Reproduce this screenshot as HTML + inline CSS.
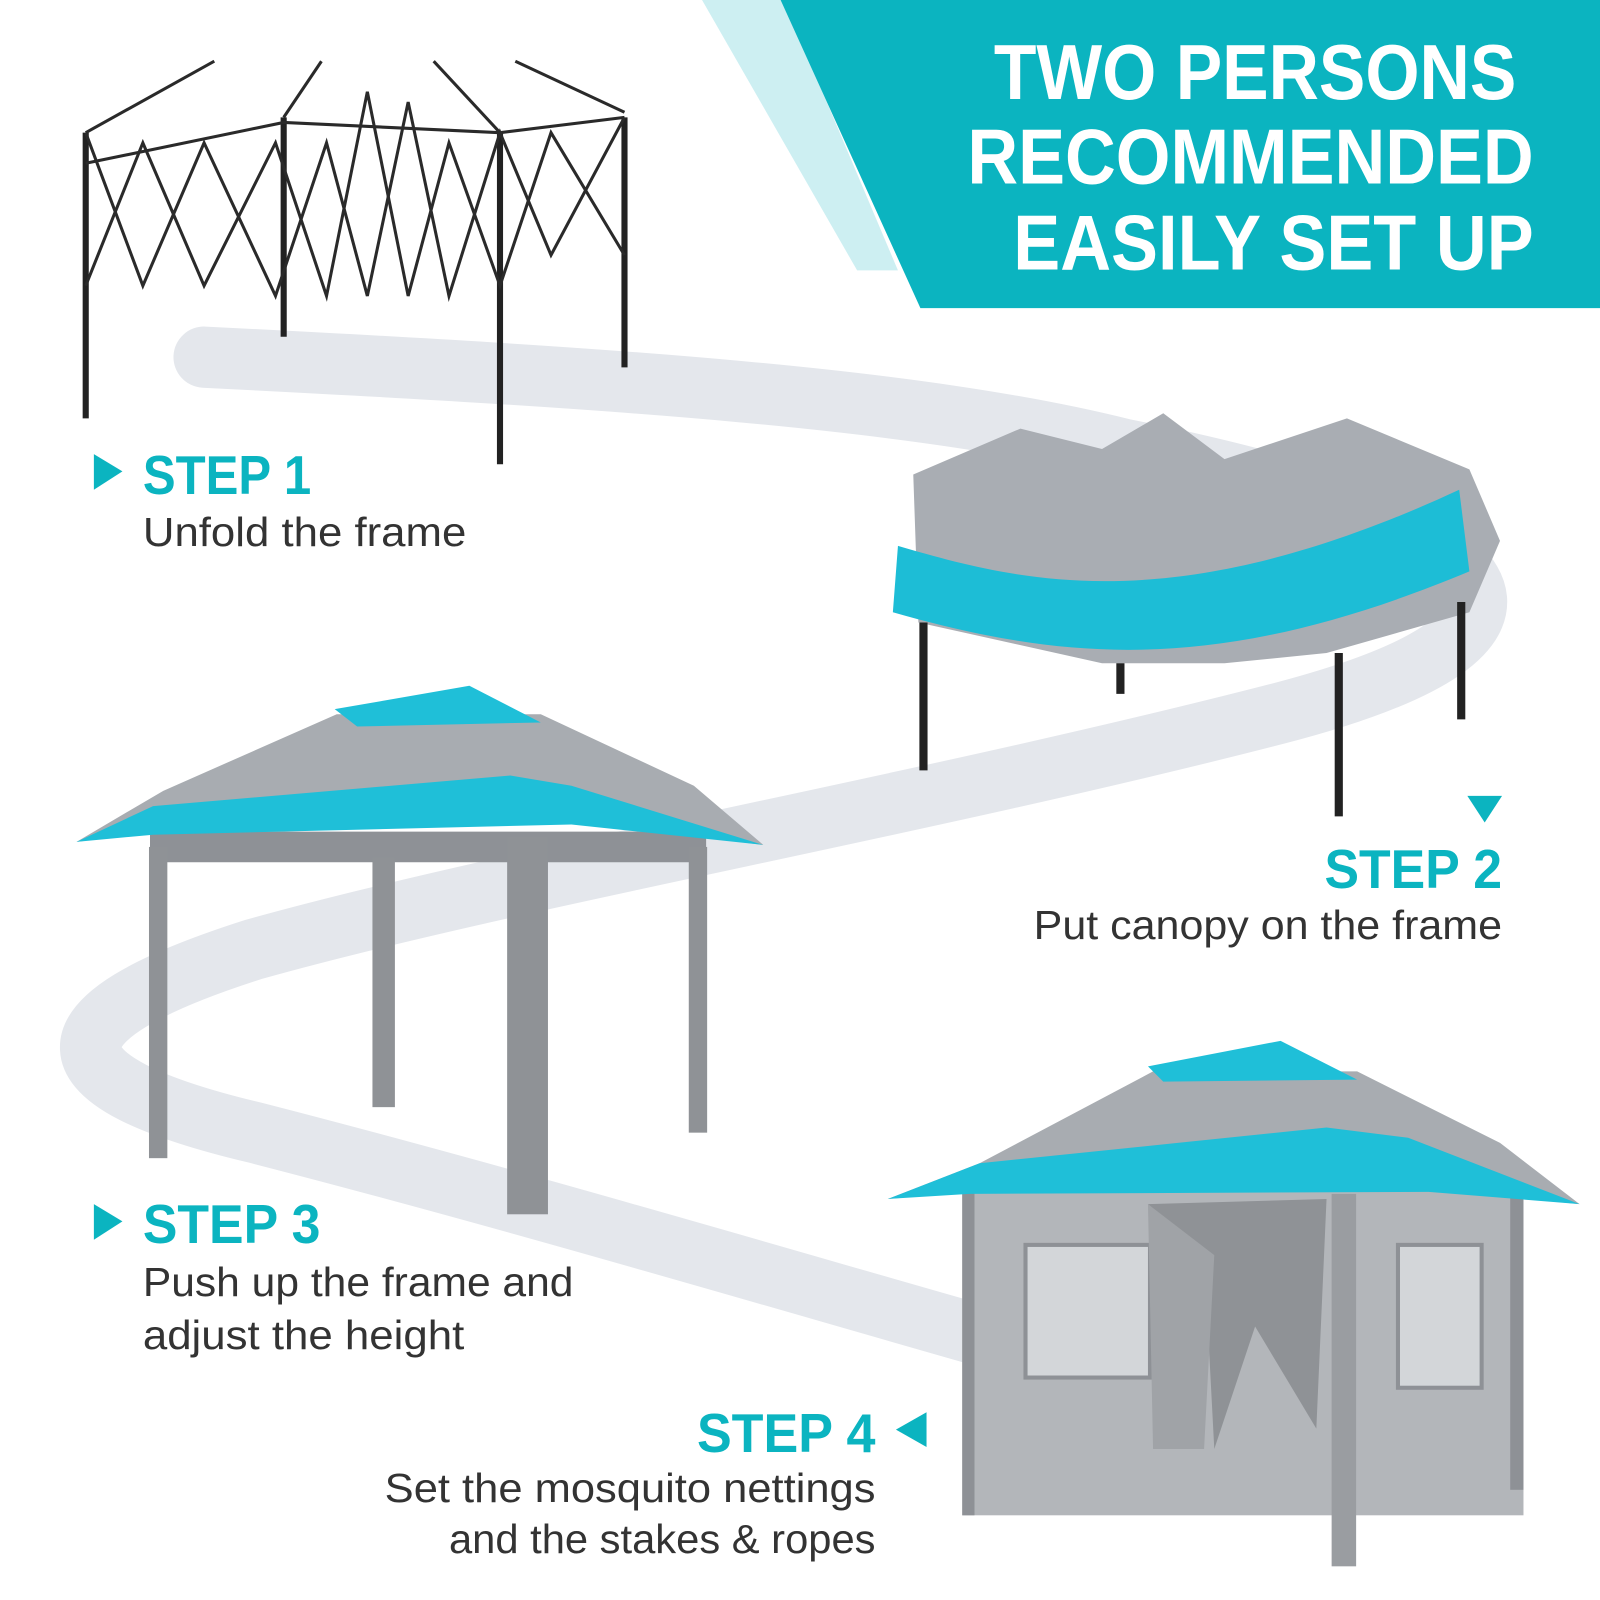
<!DOCTYPE html>
<html><head><style>
html,body{margin:0;padding:0;background:#fff;}
svg{display:block;}
text{font-family:"Liberation Sans",sans-serif;}
</style></head><body>
<svg width="1600" height="1600" viewBox="0 0 1568 1568" xmlns="http://www.w3.org/2000/svg">
<rect width="1568" height="1568" fill="#fff"/>
<polygon points="688,0 768,0 880,265 840,265" fill="#cdeff2"/>
<polygon points="765,0 1568,0 1568,302 902,302" fill="#0bb4c0"/>
<g fill="#fff" font-weight="bold" font-size="76" text-anchor="end">
<text x="1486" y="97" textLength="512" lengthAdjust="spacingAndGlyphs">TWO PERSONS</text>
<text x="1503" y="180" textLength="555" lengthAdjust="spacingAndGlyphs">RECOMMENDED</text>
<text x="1503" y="264" textLength="510" lengthAdjust="spacingAndGlyphs">EASILY SET UP</text>
</g>
<path d="M200,350 C600,370 900,390 1100,440 C1500,520 1560,620 1250,700 C900,790 500,860 250,930 C30,1000 40,1060 250,1110 C600,1200 950,1310 1290,1400" fill="none" stroke="#e4e7ec" stroke-width="60" stroke-linecap="round"/>
<g stroke="#222" stroke-width="6" fill="none">
<line x1="84" y1="130" x2="84" y2="410"/><line x1="490" y1="130" x2="490" y2="455"/>
<line x1="278" y1="115" x2="278" y2="330"/><line x1="612" y1="115" x2="612" y2="360"/>
</g>
<g stroke="#2a2a2a" stroke-width="3" fill="none">
<polyline points="84,130 140,280 200,140 270,290 320,140 360,290 400,100 440,290 490,130 540,250 612,115"/>
<polyline points="84,280 140,140 200,280 270,140 320,290 360,90 400,290 440,140 490,280 540,130 612,250"/>
<line x1="84" y1="130" x2="210" y2="60"/><line x1="278" y1="115" x2="315" y2="60"/>
<line x1="490" y1="130" x2="425" y2="60"/><line x1="612" y1="110" x2="505" y2="60"/>
<polyline points="84,160 278,120 490,130 612,115"/>
</g>
<g>
<path d="M895,465 L1000,420 L1080,440 L1140,405 L1200,450 L1320,410 L1440,460 L1470,530 L1440,600 L1300,640 L1200,650 L1080,650 L900,610 Z" fill="#a9adb3"/>
<path d="M880,535 C1000,570 1150,610 1430,480 L1440,560 C1200,660 1050,650 875,600 Z" fill="#1dbdd6"/>
<g stroke="#222" stroke-width="8"><line x1="905" y1="610" x2="905" y2="755"/><line x1="1312" y1="640" x2="1312" y2="800"/><line x1="1432" y1="590" x2="1432" y2="705"/><line x1="1098" y1="650" x2="1098" y2="680"/></g>
</g>
<g>
<rect x="147" y="815" width="545" height="30" fill="#8e9196"/>
<g fill="#8f9296"><rect x="146" y="830" width="18" height="305"/><rect x="675" y="830" width="18" height="280"/><rect x="365" y="840" width="22" height="245"/><rect x="497" y="820" width="40" height="370"/></g>
<polygon points="75,825 160,775 330,700 530,700 680,770 748,828 560,805 150,815" fill="#a8acb1"/>
<polygon points="75,825 150,790 500,760 560,770 748,828 560,808 150,818" fill="#1fbfd8"/>
<polygon points="328,695 460,672 530,708 350,712" fill="#1fbfd8"/>
</g>
<g>
<rect x="943" y="1165" width="550" height="320" fill="#b3b6ba"/>
<rect x="943" y="1165" width="12" height="320" fill="#8e9196"/>
<rect x="1480" y="1165" width="13" height="295" fill="#8e9196"/>
<rect x="1005" y="1220" width="122" height="130" fill="#d3d6d9" stroke="#8e9196" stroke-width="4"/>
<rect x="1370" y="1220" width="82" height="140" fill="#d3d6d9" stroke="#8e9196" stroke-width="4"/>
<polygon points="1125,1180 1300,1175 1290,1400 1230,1300 1190,1420 1180,1230" fill="#8f9296"/>
<polygon points="1125,1180 1190,1230 1180,1420 1130,1420" fill="#a0a3a7"/>
<polygon points="870,1175 960,1140 1130,1050 1330,1050 1470,1120 1548,1180 1400,1165 950,1168" fill="#a8acb1"/>
<polygon points="870,1175 960,1140 1300,1105 1380,1115 1548,1180 1400,1168 950,1170" fill="#1fbfd8"/>
<polygon points="1125,1045 1255,1020 1330,1058 1140,1060" fill="#1fbfd8"/>
<rect x="1305" y="1170" width="24" height="365" fill="#9a9da1"/>
</g>
<g fill="#0bb4c0" font-weight="bold" font-size="54">
<polygon points="92,445 92,480 120,462"/>
<text x="140" y="484" textLength="165" lengthAdjust="spacingAndGlyphs">STEP 1</text>
<polygon points="1438,780 1472,780 1455,806"/>
<text x="1472" y="870" text-anchor="end" textLength="174" lengthAdjust="spacingAndGlyphs">STEP 2</text>
<polygon points="92,1180 92,1215 120,1197"/>
<text x="140" y="1218" textLength="174" lengthAdjust="spacingAndGlyphs">STEP 3</text>
<text x="858" y="1423" text-anchor="end" textLength="175" lengthAdjust="spacingAndGlyphs">STEP 4</text>
<polygon points="908,1384 908,1418 878,1401"/>
</g>
<g fill="#333" font-size="40">
<text x="140" y="535" textLength="317" lengthAdjust="spacingAndGlyphs">Unfold the frame</text>
<text x="1472" y="920" text-anchor="end" textLength="459" lengthAdjust="spacingAndGlyphs">Put canopy on the frame</text>
<text x="140" y="1270" textLength="422" lengthAdjust="spacingAndGlyphs">Push up the frame and</text>
<text x="140" y="1322" textLength="315" lengthAdjust="spacingAndGlyphs">adjust the height</text>
<text x="858" y="1472" text-anchor="end" textLength="481" lengthAdjust="spacingAndGlyphs">Set the mosquito nettings</text>
<text x="858" y="1522" text-anchor="end" textLength="418" lengthAdjust="spacingAndGlyphs">and the stakes &amp; ropes</text>
</g>
</svg>
</body></html>
